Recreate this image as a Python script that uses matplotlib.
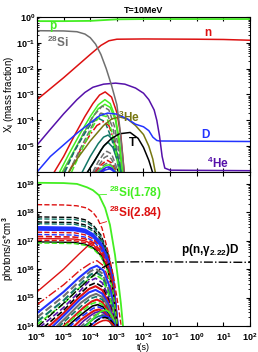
import numpy as np
import matplotlib.pyplot as plt
from matplotlib.ticker import FuncFormatter

plt.rcParams['font.family'] = ['Liberation Sans', 'DejaVu Sans']
plt.rcParams['font.weight'] = 'bold'
plt.rcParams['font.size'] = 6.5
plt.rcParams['mathtext.fontset'] = 'custom'
plt.rcParams['mathtext.rm'] = 'Liberation Sans:bold'
plt.rcParams['mathtext.bf'] = 'Liberation Sans:bold'
plt.rcParams['mathtext.it'] = 'Liberation Sans:bold:italic'
plt.rcParams['mathtext.default'] = 'bf'

# colores
VERDE = '#44ee22'
ROJO = '#dd1111'
GRIS = '#707070'
AZUL = '#2233ff'
MORADO = '#5511aa'
OLIVA = '#777711'
TEAL = '#117766'
NEGRO = 'black'

# ---------------- PANEL SUPERIOR: X_i (log10 t, log10 X) ----------------
t_p = [-6, -5, -4, -3.5, -3, -2, 2]
x_p = [-0.16, -0.16, -0.15, -0.12, -0.09, -0.08, -0.08]

t_si = [-6, -5, -4.5, -4.2, -4.0, -3.8, -3.6, -3.4, -3.2, -3.0, -2.9, -2.8, -2.72]
x_si = [-0.53, -0.54, -0.57, -0.66, -0.8, -1.05, -1.45, -2.0, -2.65, -3.4, -4.2, -5.2, -6.1]

t_n = [-6, -5, -4.5, -4, -3.6, -3.3, -3, -2, 0, 1, 2]
x_n = [-3.2, -2.35, -1.9, -1.45, -1.1, -0.92, -0.86, -0.85, -0.86, -0.87, -0.9]

t_he4 = [-6, -5.5, -5, -4.5, -4.2, -3.9, -3.5, -3.05, -2.7, -2.3, -2.0, -1.8, -1.6, -1.5, -1.4, -1.3, -1.2, -1.0, 2]
x_he4 = [-4.96, -4.35, -3.75, -3.2, -2.92, -2.72, -2.6, -2.56, -2.6, -2.75, -2.95, -3.2, -3.6, -4.0, -4.6, -5.4, -5.85, -5.93, -5.95]

t_d = [-6, -5.5, -5, -4.5, -4, -3.65, -3.35, -3, -2.6, -2.3, -2, -1.8, -1.65, -1.5, -1.4, 2]
x_d = [-6, -5.4, -4.95, -4.5, -4.1, -3.82, -3.72, -3.76, -3.95, -4.15, -4.25, -4.4, -4.65, -4.78, -4.8, -4.82]

t_he3 = [-4.8, -4.5, -4, -3.5, -3.2, -2.9, -2.6, -2.3, -2, -1.8, -1.65, -1.55]
x_he3 = [-6, -5.5, -4.8, -4.2, -3.95, -3.87, -3.95, -4.2, -4.55, -5.0, -5.5, -6.05]

t_tri = [-4.1, -3.8, -3.5, -3.2, -2.9, -2.5, -2.2, -2.0, -1.8, -1.65]
x_tri = [-6, -5.5, -5.0, -4.7, -4.52, -4.47, -4.7, -5.05, -5.55, -6.05]

# curvas de fondo del panel superior
sup_t = [
    [-5.35, -5.0, -4.6, -4.2, -3.9, -3.65, -3.44, -3.2, -3.0, -2.85, -2.72],
    [-5.15, -4.8, -4.4, -4.0, -3.7, -3.45, -3.25, -3.05, -2.9, -2.78],
    [-5.05, -4.7, -4.3, -3.95, -3.7, -3.45, -3.25, -3.05, -2.92, -2.8],
    [-5.0, -4.6, -4.2, -3.9, -3.55, -3.3, -3.1, -2.95, -2.84],
    [-4.95, -4.6, -4.2, -3.95, -3.7, -3.45, -3.2, -3.0, -2.9],
    [-4.8, -4.4, -4.0, -3.75, -3.5, -3.3, -3.1, -2.95, -2.86],
    [-4.8, -4.4, -4.0, -3.8, -3.6, -3.35, -3.15, -3.0, -2.88],
    [-4.3, -4.0, -3.7, -3.5, -3.33, -3.15, -3.0, -2.9, -2.83],
    [-4.1, -3.85, -3.6, -3.45, -3.33, -3.15, -3.0, -2.9, -2.85],
    [-4.7, -4.3, -4.0, -3.8, -3.6, -3.4, -3.2, -3.02, -2.9],
    [-3.9, -3.7, -3.5, -3.38, -3.2, -3.05, -2.95],
    [-3.85, -3.65, -3.48, -3.36, -3.2, -3.05, -2.97],
    [-3.8, -3.62, -3.45, -3.35, -3.2, -3.08, -2.98],
    [-3.75, -3.58, -3.45, -3.33, -3.2, -3.08, -3.0],
    [-3.7, -3.55, -3.42, -3.3, -3.18, -3.07, -3.0],
    [-3.65, -3.5, -3.4, -3.3, -3.18, -3.08, -3.02],
    [-3.6, -3.48, -3.38, -3.28, -3.17, -3.08, -3.02],
    [-3.55, -3.45, -3.36, -3.27, -3.18, -3.1, -3.04],
]
sup_x = [
    [-6, -5.4, -4.6, -3.85, -3.35, -3.02, -2.9, -3.1, -3.7, -4.6, -6.05],
    [-6, -5.3, -4.55, -3.85, -3.4, -3.2, -3.35, -3.9, -4.8, -6.05],
    [-6, -5.35, -4.6, -3.95, -3.55, -3.38, -3.5, -4.0, -4.9, -6.05],
    [-6, -5.2, -4.4, -3.85, -3.45, -3.6, -4.2, -5.0, -6.05],
    [-6, -5.2, -4.5, -4.1, -3.92, -4.05, -4.7, -5.5, -6.05],
    [-6, -5.2, -4.55, -4.2, -4.05, -4.2, -4.8, -5.6, -6.05],
    [-6, -5.15, -4.35, -3.95, -3.72, -3.8, -4.3, -5.1, -6.05],
    [-6, -5.4, -4.9, -4.65, -4.57, -4.75, -5.25, -5.7, -6.05],
    [-6, -5.6, -5.15, -4.95, -4.85, -5.05, -5.5, -5.8, -6.05],
    [-6, -5.1, -4.45, -4.05, -3.8, -3.85, -4.4, -5.3, -6.05],
    [-6, -5.6, -5.3, -5.2, -5.3, -5.7, -6.05],
    [-6, -5.7, -5.45, -5.38, -5.5, -5.85, -6.05],
    [-6, -5.75, -5.6, -5.55, -5.65, -5.9, -6.05],
    [-6, -5.8, -5.7, -5.65, -5.75, -5.95, -6.05],
    [-6, -5.85, -5.75, -5.72, -5.8, -5.97, -6.05],
    [-6, -5.88, -5.82, -5.8, -5.86, -5.98, -6.05],
    [-6, -5.9, -5.85, -5.84, -5.9, -6.0, -6.05],
    [-6, -5.93, -5.9, -5.88, -5.93, -6.0, -6.05],
]
sup_color = [ROJO, VERDE, VERDE, GRIS, TEAL, ROJO, GRIS, TEAL, TEAL, VERDE,
             GRIS, GRIS, ROJO, GRIS, VERDE, AZUL, MORADO, AZUL]
sup_ls = ['-', '-', '-', '--', '--', '-.', '--', '-', '-', '--',
          '--', '--', '--', '--', '-', '-', '--', '-']

# ---------------- PANEL INFERIOR: photons/s*cm^3 (log10 t, log10 Y) ----------------
t_si178 = [-6, -5, -4.5, -4.12, -3.9, -3.67, -3.44, -3.26, -3.07, -2.95, -2.85, -2.76]
y_si178 = [19.04, 19.03, 19.0, 18.88, 18.78, 18.6, 18.15, 17.56, 16.5, 15.6, 14.8, 13.9]

t_si284 = [-6, -5, -4.5, -4.12, -3.9, -3.74, -3.56, -3.3, -3.12, -3.0, -2.9, -2.82]
y_si284 = [18.27, 18.26, 18.23, 18.15, 18.0, 17.8, 17.45, 16.5, 15.7, 15.0, 14.4, 13.9]

t_png = [-6, -5, -4.5, -4, -3.6, -3.3, -3.05, -2, 0, 2]
y_png = [13.95, 14.8, 15.25, 15.68, 16.02, 16.18, 16.25, 16.26, 16.25, 16.24]

# curvas planas (nivel inicial constante)
plana_t = [-6, -4.6, -4.2, -3.9, -3.6, -3.35, -3.15, -2.97]
plana_y = [
    [17.84, 17.82, 17.74, 17.56, 17.2, 16.6, 15.8, 13.9],
    [17.77, 17.75, 17.67, 17.5, 17.14, 16.55, 15.75, 13.9],
    [17.66, 17.64, 17.56, 17.4, 17.05, 16.48, 15.7, 13.9],
    [17.6, 17.58, 17.5, 17.34, 17.0, 16.44, 15.66, 13.9],
    [17.47, 17.45, 17.38, 17.22, 16.9, 16.35, 15.6, 13.9],
    [17.4, 17.38, 17.31, 17.16, 16.84, 16.3, 15.56, 13.9],
    [17.3, 17.28, 17.21, 17.07, 16.76, 16.22, 15.5, 13.9],
    [17.22, 17.2, 17.13, 17.0, 16.7, 16.17, 15.46, 13.9],
    [17.15, 17.13, 17.07, 16.94, 16.64, 16.12, 15.42, 13.9],
    [17.08, 17.06, 17.0, 16.87, 16.58, 16.06, 15.38, 13.9],
    [17.02, 17.0, 16.94, 16.82, 16.53, 16.02, 15.34, 13.9],
    [16.96, 16.94, 16.88, 16.76, 16.48, 15.98, 15.3, 13.9],
    [16.92, 16.9, 16.84, 16.72, 16.44, 15.94, 15.27, 13.9],
]
plana_color = [NEGRO, TEAL, NEGRO, TEAL, AZUL, AZUL, ROJO, AZUL, ROJO, ROJO, ROJO, NEGRO, VERDE]
plana_ls = ['--', '--', '--', '--', '-', '-', '--', '--', '--', '-', '--', '-', '--']
plana_lw = [1.0, 1.0, 1.0, 1.0, 2.0, 2.0, 1.0, 1.0, 1.2, 1.0, 1.0, 1.0, 1.0]

# curvas campana que suben desde la izquierda
inf_t = [
    [-6, -5, -4.4, -4.0, -3.7, -3.45, -3.25, -3.1, -2.95],
    [-6, -5, -4.4, -4.0, -3.75, -3.5, -3.3, -3.1, -2.95],
    [-6, -5, -4.4, -4.0, -3.75, -3.5, -3.3, -3.12, -2.98],
    [-6, -5, -4.4, -4.0, -3.8, -3.55, -3.35, -3.15, -3.0],
    [-6, -5, -4.4, -4.0, -3.8, -3.55, -3.35, -3.15, -3.0],
    [-6, -5, -4.4, -4.0, -3.8, -3.55, -3.35, -3.15, -3.0],
    [-5.9, -5, -4.4, -4.05, -3.8, -3.55, -3.35, -3.17, -3.02],
    [-5.75, -5, -4.45, -4.05, -3.8, -3.55, -3.35, -3.17, -3.02],
    [-5.6, -5, -4.45, -4.05, -3.8, -3.55, -3.35, -3.18, -3.03],
    [-5.45, -4.9, -4.4, -4.05, -3.8, -3.55, -3.35, -3.18, -3.03],
    [-5.3, -4.8, -4.35, -4.0, -3.78, -3.55, -3.35, -3.18, -3.04],
    [-5.2, -4.75, -4.3, -4.0, -3.78, -3.55, -3.36, -3.2, -3.05],
    [-5.05, -4.65, -4.25, -3.95, -3.75, -3.55, -3.36, -3.2, -3.06],
    [-5.0, -4.6, -4.2, -3.95, -3.75, -3.55, -3.37, -3.2, -3.06],
    [-4.9, -4.5, -4.15, -3.92, -3.72, -3.52, -3.36, -3.21, -3.08],
    [-4.8, -4.45, -4.1, -3.9, -3.7, -3.5, -3.35, -3.21, -3.08],
    [-4.65, -4.35, -4.05, -3.85, -3.68, -3.5, -3.35, -3.22, -3.1],
    [-4.5, -4.25, -4.0, -3.82, -3.65, -3.5, -3.35, -3.22, -3.1],
    [-4.4, -4.15, -3.95, -3.8, -3.65, -3.5, -3.36, -3.23, -3.12],
    [-4.3, -4.05, -3.85, -3.7, -3.55, -3.42, -3.3, -3.2, -3.1],
    [-4.2, -3.95, -3.75, -3.58, -3.42, -3.3, -3.18, -3.08, -3.0],
    [-4.05, -3.85, -3.68, -3.55, -3.42, -3.3, -3.2, -3.1, -3.02],
    [-4.1, -3.9, -3.72, -3.58, -3.45, -3.33, -3.22, -3.12, -3.05],
    [-3.95, -3.8, -3.65, -3.52, -3.4, -3.3, -3.2, -3.12, -3.06],
]
inf_y = [
    [15.2, 16.0, 16.55, 16.9, 17.0, 16.75, 16.1, 15.3, 13.9],
    [14.75, 15.45, 15.95, 16.2, 16.3, 16.12, 15.6, 14.9, 13.9],
    [14.45, 15.2, 15.72, 16.02, 16.12, 15.95, 15.45, 14.8, 13.9],
    [14.3, 15.05, 15.58, 15.92, 16.02, 15.85, 15.4, 14.7, 13.9],
    [14.15, 14.9, 15.45, 15.8, 15.9, 15.75, 15.3, 14.65, 13.9],
    [14.05, 14.78, 15.35, 15.7, 15.8, 15.65, 15.22, 14.6, 13.9],
    [13.95, 14.65, 15.22, 15.57, 15.68, 15.52, 15.12, 14.52, 13.9],
    [13.95, 14.55, 15.08, 15.42, 15.52, 15.38, 15.0, 14.45, 13.9],
    [13.95, 14.45, 14.98, 15.3, 15.4, 15.26, 14.9, 14.4, 13.9],
    [13.95, 14.45, 14.92, 15.18, 15.27, 15.14, 14.82, 14.35, 13.9],
    [13.95, 14.4, 14.82, 15.05, 15.13, 15.02, 14.72, 14.3, 13.9],
    [13.95, 14.35, 14.73, 14.96, 15.03, 14.93, 14.65, 14.27, 13.9],
    [13.95, 14.3, 14.65, 14.86, 14.93, 14.84, 14.58, 14.24, 13.9],
    [13.95, 14.3, 14.6, 14.78, 14.84, 14.76, 14.52, 14.21, 13.9],
    [13.95, 14.28, 14.54, 14.7, 14.75, 14.67, 14.46, 14.18, 13.9],
    [13.95, 14.25, 14.48, 14.62, 14.67, 14.6, 14.41, 14.16, 13.9],
    [13.95, 14.22, 14.42, 14.54, 14.58, 14.52, 14.36, 14.14, 13.9],
    [13.95, 14.18, 14.36, 14.47, 14.51, 14.46, 14.32, 14.12, 13.9],
    [13.95, 14.14, 14.3, 14.4, 14.43, 14.39, 14.27, 14.1, 13.9],
    [13.95, 14.12, 14.26, 14.34, 14.37, 14.33, 14.23, 14.08, 13.9],
    [13.95, 14.2, 14.4, 14.52, 14.56, 14.5, 14.35, 14.15, 13.9],
    [13.95, 14.12, 14.25, 14.32, 14.35, 14.31, 14.22, 14.08, 13.9],
    [13.95, 14.1, 14.22, 14.28, 14.3, 14.27, 14.18, 14.06, 13.9],
    [13.95, 14.06, 14.14, 14.19, 14.2, 14.17, 14.1, 14.02, 13.9],
]
inf_color = [ROJO, ROJO, AZUL, GRIS, TEAL, VERDE, MORADO, NEGRO, ROJO, AZUL, GRIS, TEAL,
             ROJO, VERDE, NEGRO, AZUL, ROJO, MORADO, GRIS, TEAL, VERDE, AZUL, NEGRO, ROJO]
inf_ls = ['-', '-.', '-', '--', '--', '--', '--', '--', '-', '-', '-', '--',
          '-', '--', '-', '--', '-', '-', '--', '-', '-', '-', '--', '-']
inf_lw = [1.0, 1.0, 1.5, 1.5, 1.5, 1.2, 1.2, 1.2, 1.5, 1.5, 1.5, 1.2,
          1.5, 1.2, 1.2, 1.2, 1.5, 1.2, 1.2, 1.2, 1.2, 1.2, 1.2, 1.2]


def p10(v):
    return 10.0 ** np.array(v)


def etiqueta_log(val, pos):
    exp = int(round(np.log10(val)))
    return '$\\mathbf{10^{%d}}$' % exp


fig = plt.figure(figsize=(2.58, 3.52), dpi=100)
ax1 = fig.add_axes([0.1434, 0.5114, 0.8256, 0.4403])
ax2 = fig.add_axes([0.1434, 0.0739, 0.8256, 0.4375])

# panel superior
for tt, xx, c, ls in zip(sup_t, sup_x, sup_color, sup_ls):
    ax1.plot(p10(tt), p10(xx), color=c, ls=ls, lw=1.1)
ax1.plot(p10(t_he3), p10(x_he3), color=OLIVA, lw=1.1)
ax1.plot(p10(t_tri), p10(x_tri), color=NEGRO, lw=1.1)
ax1.plot(p10(t_d), p10(x_d), color=AZUL, lw=1.1)
ax1.plot(p10(t_he4), p10(x_he4), color=MORADO, lw=1.1)
ax1.plot(p10(t_n), p10(x_n), color=ROJO, lw=1.1)
ax1.plot(p10(t_si), p10(x_si), color=GRIS, lw=1.1)
ax1.plot(p10(t_p), p10(x_p), color=VERDE, lw=1.3)

ax1.text(10**-5.4, 10**-0.33, 'p', color=VERDE, fontsize=8.5, ha='center', va='center')
ax1.text(10**-5.2, 10**-1.0, '$^{28}$Si', color=GRIS, fontsize=8.5, ha='center', va='center')
ax1.text(10**0.4, 10**-0.6, 'n', color=ROJO, fontsize=8.5, ha='center', va='center')
ax1.text(10**-2.55, 10**-3.9, '$^{3}$He', color=OLIVA, fontsize=8.5, ha='center', va='center')
ax1.text(10**0.33, 10**-4.57, 'D', color=AZUL, fontsize=8.5, ha='center', va='center')
ax1.text(10**-2.4, 10**-4.86, 'T', color=NEGRO, fontsize=8.5, ha='center', va='center')
ax1.text(10**0.8, 10**-5.66, '$^{4}$He', color=MORADO, fontsize=8.5, ha='center', va='center')

ax1.set_xscale('log')
ax1.set_yscale('log')
ax1.set_xlim(1e-6, 1e2)
ax1.set_ylim(1e-6, 1)
ax1.set_yticks([1e-5, 1e-4, 1e-3, 1e-2, 1e-1, 1])
ax1.set_xticks([10.0**k for k in range(-6, 3)])
ax1.set_xticklabels([])
ax1.yaxis.set_major_formatter(FuncFormatter(etiqueta_log))
ax1.set_ylabel('X$_{i}$ (mass fraction)', fontsize=7, labelpad=0)
ax1.set_title('T=10MeV', fontsize=6.5, fontweight='bold', pad=3)

# panel inferior
for tt, yy, c, ls, lw in zip(inf_t, inf_y, inf_color, inf_ls, inf_lw):
    ax2.plot(p10(tt), p10(yy), color=c, ls=ls, lw=lw)
for yy, c, ls, lw in zip(plana_y, plana_color, plana_ls, plana_lw):
    ax2.plot(p10(plana_t), p10(yy), color=c, ls=ls, lw=lw)
ax2.plot(p10(t_png), p10(y_png), color=NEGRO, ls='-.', lw=1.0)
ax2.plot(p10(t_si284), p10(y_si284), color=ROJO, ls='--', lw=1.0)
ax2.plot(p10(t_si178), p10(y_si178), color=VERDE, lw=1.3)

ax2.annotate('$^{28}$Si(1.78)', xy=(10**-3.65, 10**18.62), xytext=(10**-3.28, 10**18.68),
             color=VERDE, fontsize=8.5, va='center', ha='left',
             arrowprops=dict(arrowstyle='-', color=VERDE, lw=0.6, shrinkA=0, shrinkB=0))
ax2.annotate('$^{28}$Si(2.84)', xy=(10**-3.65, 10**17.6), xytext=(10**-3.28, 10**17.98),
             color=ROJO, fontsize=8.5, va='center', ha='left',
             arrowprops=dict(arrowstyle='-', color=ROJO, lw=0.6, shrinkA=0, shrinkB=0))
ax2.text(10**-0.58, 10**16.68, 'p(n,$\\gamma_{2.22}$)D', color=NEGRO, fontsize=8.5, va='center', ha='left')

ax2.set_xscale('log')
ax2.set_yscale('log')
ax2.set_xlim(1e-6, 1e2)
ax2.set_ylim(1e14, 10**19.42)
ax2.set_xticks([10.0**k for k in range(-6, 3)])
ax2.set_yticks([1e14, 1e15, 1e16, 1e17, 1e18, 1e19])
ax2.xaxis.set_major_formatter(FuncFormatter(etiqueta_log))
ax2.yaxis.set_major_formatter(FuncFormatter(etiqueta_log))
ax2.set_xlabel('t(s)', fontsize=6.5, labelpad=0.5)
ax2.set_ylabel('photons/s*cm$^{3}$', fontsize=7, labelpad=0)

for ax in (ax1, ax2):
    ax.tick_params(which='both', direction='in', top=True, right=True, labelsize=6.5)
    ax.tick_params(axis='y', pad=1.5)
    ax.tick_params(axis='x', pad=3.5)
    ax.tick_params(which='major', length=3)
    ax.tick_params(which='minor', length=1.5)
    for s in ax.spines.values():
        s.set_linewidth(0.8)

fig.savefig('out.png', dpi=100)
